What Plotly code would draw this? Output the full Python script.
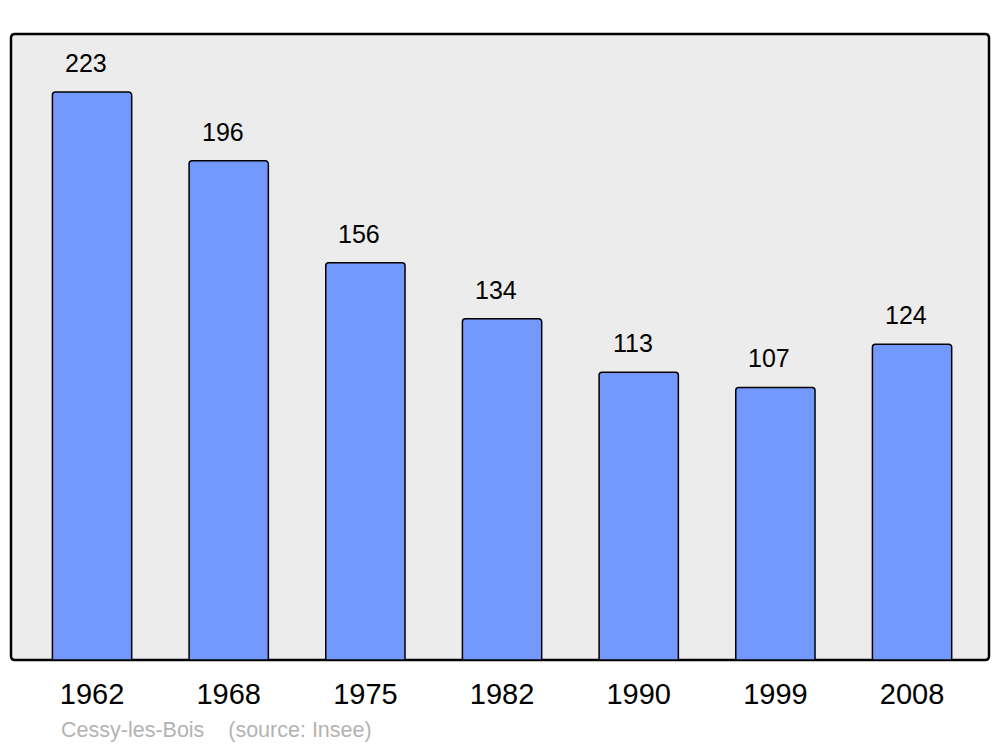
import plotly.graph_objects as go

years = ["1962", "1968", "1975", "1982", "1990", "1999", "2008"]
population = [223, 196, 156, 134, 113, 107, 124]
caption = "Cessy-les-Bois    (source: Insee)"

# page body has an 8px margin, so the figure is made 8px smaller
W, H = 992, 739
m = dict(l=3, r=11, t=26, b=87)
pw, ph = W - m["l"] - m["r"], H - m["t"] - m["b"]


def rounded_rect(r=5):
    # rounded box in paper coords, r in px
    rx, ry = r / pw, r / ph
    return (f"M {rx},0 L {1-rx},0 Q 1,0 1,{ry} L 1,{1-ry} Q 1,1 {1-rx},1 "
            f"L {rx},1 Q 0,1 0,{1-ry} L 0,{ry} Q 0,0 {rx},0 Z")


fig = go.Figure(go.Bar(
    x=years, y=population, width=0.58,
    marker=dict(color="#7399ff", line=dict(color="black", width=1.5), cornerradius=3),
    hoverinfo="skip",
))

for i, v in enumerate(population):
    fig.add_annotation(x=i, y=v, text=str(v), showarrow=False, yanchor="bottom",
                       xshift=-6, yshift=13, font=dict(size=25, color="black"))

fig.add_annotation(xref="paper", yref="paper", x=48 / pw, y=-(730 - 660) / ph,
                   xanchor="left", yanchor="middle", text=caption.replace(" ", "&nbsp;"),
                   showarrow=False, font=dict(size=21.5, color="#b3b3b3"))

fig.add_shape(type="path", xref="paper", yref="paper", path=rounded_rect(4),
              fillcolor="#ececec", line=dict(color="black", width=2.5), layer="below")

fig.update_layout(
    width=W, height=H, margin=m,
    paper_bgcolor="white", plot_bgcolor="rgba(0,0,0,0)",
    font=dict(family="Liberation Sans, Arial, sans-serif"),
    showlegend=False, hovermode=False,
    xaxis=dict(type="category", range=[-0.593, 6.563], showgrid=False, zeroline=False,
               showline=False, ticks="", tickfont=dict(size=29, color="black"),
               ticklabelstandoff=14),
    yaxis=dict(range=[0, 245.8], visible=False, showgrid=False, zeroline=False),
)

fig.write_html("out.html")
